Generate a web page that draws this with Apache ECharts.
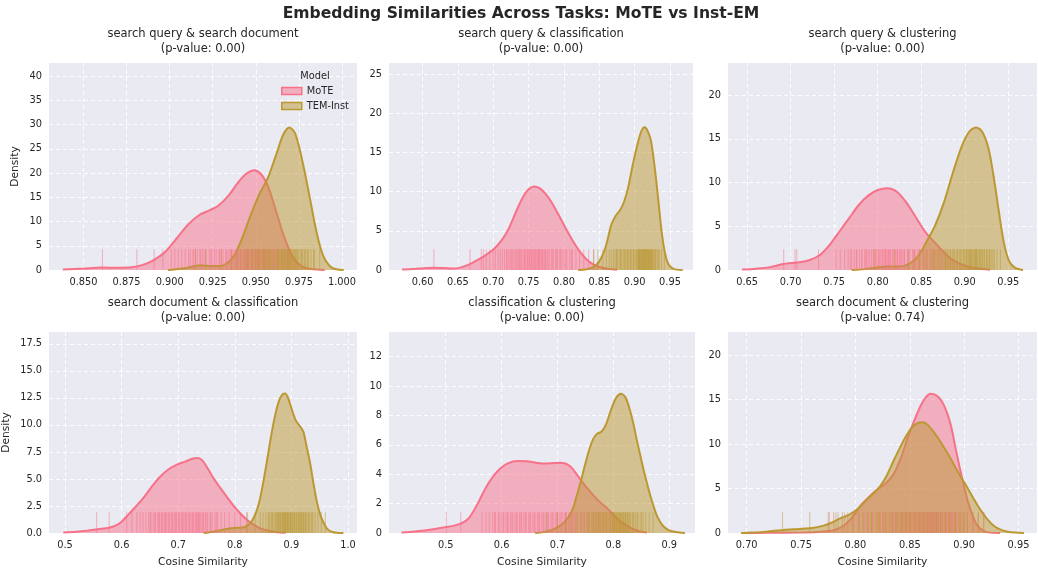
<!DOCTYPE html>
<html>
<head>
<meta charset="utf-8">
<script src="https://cdn.jsdelivr.net/npm/echarts@6/dist/echarts.min.js"></script>
<style>html,body{margin:0;padding:0;background:#fff;}#c{width:1038px;height:569px;}</style>
</head>
<body>
<div id="c"></div>
<script>
// ---------------- DATA ----------------
const seriesNames = ['MoTE', 'TEM-Inst'];
const mainTitle = 'Embedding Similarities Across Tasks: MoTE vs Inst-EM';
const panelTitles = [
  'search query & search document', 'search query & classification', 'search query & clustering',
  'search document & classification', 'classification & clustering', 'search document & clustering'
];
const pValues = ['0.00', '0.00', '0.00', '0.00', '0.00', '0.74'];

// KDE curves [x, density]
const kde1Mote = [[0.838,0.1],[0.850,0.3],[0.860,0.5],[0.870,0.45],[0.878,0.55],[0.884,1.0],[0.890,1.9],[0.897,3.6],[0.904,6.5],[0.911,9.5],[0.917,11.3],[0.923,12.3],[0.928,13.2],[0.934,15.3],[0.940,18.2],[0.945,20.0],[0.949,20.6],[0.953,19.8],[0.957,17.3],[0.961,13.0],[0.966,7.3],[0.971,3.0],[0.976,0.9],[0.982,0.2],[0.990,0.02]];
const kde1Tem = [[0.899,0.0],[0.905,0.2],[0.912,0.6],[0.918,1.0],[0.924,0.8],[0.929,0.8],[0.934,1.6],[0.938,3.3],[0.942,6.5],[0.947,11.3],[0.952,15.6],[0.957,19.0],[0.962,24.0],[0.966,28.0],[0.9695,29.4],[0.973,28.0],[0.977,22.5],[0.981,15.5],[0.985,8.2],[0.989,3.0],[0.994,0.5],[1.001,0.0]];
const kde2Mote = [[0.571,0.05],[0.590,0.15],[0.606,0.25],[0.616,0.3],[0.630,0.25],[0.645,0.2],[0.660,0.5],[0.672,1.0],[0.686,1.7],[0.700,2.6],[0.712,3.8],[0.722,5.3],[0.732,7.4],[0.742,9.3],[0.750,10.3],[0.758,10.65],[0.766,10.4],[0.774,9.7],[0.782,8.7],[0.792,7.1],[0.802,5.4],[0.812,3.8],[0.822,2.4],[0.832,1.35],[0.842,0.7],[0.852,0.35],[0.862,0.15],[0.875,0.03]];
const kde2Tem = [[0.820,0.0],[0.832,0.1],[0.842,0.4],[0.850,1.1],[0.857,2.4],[0.862,4.0],[0.867,5.8],[0.873,6.9],[0.879,7.6],[0.885,8.7],[0.891,10.6],[0.897,13.3],[0.903,15.7],[0.909,17.6],[0.914,18.2],[0.918,17.8],[0.923,16.5],[0.928,13.3],[0.933,9.3],[0.938,5.0],[0.943,2.1],[0.948,0.7],[0.955,0.15],[0.968,0.0]];
const kde3Mote = [[0.644,0.05],[0.660,0.15],[0.675,0.3],[0.690,0.65],[0.700,0.8],[0.710,0.88],[0.722,1.15],[0.734,1.75],[0.745,2.9],[0.756,4.4],[0.767,5.9],[0.778,7.4],[0.789,8.5],[0.800,9.15],[0.811,9.35],[0.822,8.95],[0.833,7.7],[0.844,6.0],[0.855,4.3],[0.866,3.1],[0.877,1.9],[0.888,1.05],[0.900,0.5],[0.913,0.2],[0.929,0.03]];
const kde3Tem = [[0.770,0.0],[0.785,0.1],[0.797,0.25],[0.810,0.4],[0.825,0.4],[0.838,0.8],[0.848,1.8],[0.857,3.4],[0.866,5.1],[0.876,7.7],[0.886,11.0],[0.896,14.0],[0.905,15.8],[0.913,16.3],[0.920,15.8],[0.927,14.0],[0.933,10.8],[0.939,6.8],[0.945,3.1],[0.951,1.0],[0.958,0.25],[0.967,0.0]];
const kde4Mote = [[0.497,0.05],[0.520,0.12],[0.540,0.22],[0.558,0.35],[0.578,0.48],[0.590,0.7],[0.600,1.05],[0.612,1.7],[0.625,2.45],[0.640,3.35],[0.655,4.4],[0.668,5.2],[0.682,5.85],[0.697,6.3],[0.712,6.6],[0.726,6.9],[0.735,6.95],[0.743,6.7],[0.752,6.0],[0.762,5.1],[0.774,4.2],[0.786,3.35],[0.798,2.5],[0.810,1.8],[0.822,1.2],[0.834,0.75],[0.846,0.4],[0.860,0.2],[0.875,0.08],[0.890,0.02]];
const kde4Tem = [[0.745,0.0],[0.762,0.12],[0.775,0.25],[0.790,0.42],[0.805,0.48],[0.818,0.55],[0.828,0.95],[0.836,1.7],[0.843,2.8],[0.850,4.6],[0.857,6.7],[0.864,8.9],[0.871,10.8],[0.878,12.2],[0.884,12.8],[0.889,12.9],[0.895,12.4],[0.901,11.4],[0.908,10.4],[0.915,9.9],[0.921,9.4],[0.927,8.0],[0.933,6.5],[0.939,4.6],[0.945,2.9],[0.951,1.7],[0.957,0.95],[0.963,0.4],[0.972,0.1],[0.992,0.0]];
const kde5Mote = [[0.421,0.03],[0.445,0.1],[0.466,0.18],[0.485,0.3],[0.500,0.4],[0.515,0.5],[0.528,0.65],[0.540,0.95],[0.550,1.5],[0.560,2.2],[0.572,3.1],[0.585,3.85],[0.598,4.4],[0.612,4.75],[0.628,4.9],[0.645,4.88],[0.662,4.78],[0.678,4.72],[0.694,4.76],[0.705,4.78],[0.722,4.56],[0.740,3.7],[0.752,3.1],[0.764,2.58],[0.776,2.1],[0.788,1.7],[0.800,1.25],[0.812,0.81],[0.824,0.5],[0.836,0.26],[0.848,0.1],[0.860,0.03]];
const kde5Tem = [[0.660,0.0],[0.675,0.06],[0.690,0.2],[0.700,0.4],[0.710,0.65],[0.720,1.1],[0.728,1.7],[0.735,2.6],[0.741,3.4],[0.749,4.6],[0.757,5.7],[0.764,6.4],[0.771,6.75],[0.779,6.9],[0.787,7.4],[0.796,8.4],[0.805,9.2],[0.814,9.47],[0.822,9.2],[0.830,8.3],[0.836,7.4],[0.842,6.3],[0.848,5.3],[0.854,4.3],[0.860,3.4],[0.866,2.55],[0.872,1.8],[0.877,1.25],[0.883,0.8],[0.889,0.48],[0.898,0.22],[0.907,0.1],[0.918,0.03],[0.928,0.0]];
const kde6Mote = [[0.695,0.0],[0.720,0.02],[0.749,0.05],[0.765,0.12],[0.780,0.3],[0.790,0.9],[0.798,1.9],[0.805,3.1],[0.812,4.0],[0.820,4.9],[0.828,5.6],[0.835,6.6],[0.842,8.5],[0.848,10.7],[0.854,12.6],[0.860,14.3],[0.865,15.3],[0.869,15.66],[0.874,15.5],[0.879,14.9],[0.884,13.6],[0.888,12.0],[0.892,9.6],[0.896,7.3],[0.900,5.2],[0.904,3.3],[0.908,1.9],[0.912,0.85],[0.917,0.3],[0.922,0.07],[0.933,0.0]];
const kde6Tem = [[0.695,0.0],[0.705,0.05],[0.718,0.15],[0.734,0.35],[0.748,0.45],[0.760,0.55],[0.770,0.8],[0.778,1.15],[0.786,1.65],[0.794,2.05],[0.802,2.7],[0.810,3.7],[0.817,4.5],[0.823,5.3],[0.829,6.5],[0.835,8.1],[0.841,9.6],[0.847,11.0],[0.853,12.0],[0.858,12.4],[0.862,12.46],[0.867,12.1],[0.873,11.2],[0.879,10.1],[0.885,8.9],[0.891,7.6],[0.897,6.3],[0.903,5.1],[0.909,3.8],[0.915,2.6],[0.921,1.6],[0.927,0.85],[0.933,0.4],[0.940,0.15],[0.947,0.05],[0.955,0.0]];

// Rug observations (cosine similarity values)
const rug1Mote = [0.861,0.881,0.891,0.896,0.901,0.903,0.905,0.907,0.909,0.911,0.912,0.914,0.915,0.916,0.918,0.919,0.920,0.921,0.923,0.924,0.926,0.927,0.929,0.930,0.931,0.933,0.934,0.935,0.936,0.937,0.938,0.939,0.940,0.941,0.942,0.943,0.944,0.945,0.946,0.947,0.948,0.949,0.950,0.951,0.952,0.953,0.954,0.955,0.956,0.957,0.958,0.960,0.961,0.963,0.965,0.967,0.970,
  0.9325,0.9385,0.9415,0.9445,0.9475,0.9495,0.9505,0.9525,0.9545,0.9565,0.9285,0.9245,0.9175,0.9135,0.9595,0.9625,0.9455,0.9435,0.9355,0.9395];
const rug1Tem = [0.915,0.921,0.930,0.936,0.939,0.941,0.943,0.945,0.946,0.948,0.949,0.950,0.951,0.952,0.953,0.954,0.955,0.956,0.957,0.958,0.959,0.960,0.961,0.962,0.963,0.9635,0.964,0.965,0.9655,0.966,0.967,0.9675,0.968,0.9685,0.969,0.970,0.9705,0.971,0.972,0.9725,0.973,0.974,0.975,0.976,0.977,0.978,0.979,0.980,0.982,0.984,0.987,
  0.9445,0.9475,0.9515,0.9545,0.9575,0.9605,0.9625,0.9645,0.9665,0.9685,0.9695,0.9715,0.9735,0.9745,0.9765,0.9785,0.9805,0.9835,0.9585,0.9555];
const rug2Mote = [0.616,0.667,0.683,0.686,0.690,0.695,0.700,0.703,0.707,0.710,0.713,0.716,0.719,0.722,0.724,0.727,0.729,0.731,0.734,0.736,0.738,0.740,0.742,0.744,0.746,0.748,0.750,0.752,0.754,0.756,0.758,0.760,0.762,0.764,0.766,0.768,0.770,0.772,0.774,0.776,0.779,0.782,0.785,0.788,0.791,0.794,0.797,0.800,0.804,0.808,0.812,0.817,0.822,0.828,0.835,0.842,
  0.7445,0.7485,0.7515,0.7545,0.7575,0.7605,0.7635,0.7655,0.7695,0.7735,0.7775,0.7325,0.7375,0.7255,0.7835,0.7895,0.7955,0.8025,0.8105,0.7195];
const rug2Tem = [0.842,0.848,0.855,0.860,0.864,0.867,0.870,0.872,0.874,0.876,0.878,0.880,0.882,0.884,0.886,0.888,0.890,0.892,0.894,0.896,0.898,0.900,0.902,0.903,0.905,0.906,0.907,0.908,0.909,0.910,0.911,0.912,0.913,0.914,0.915,0.916,0.917,0.918,0.919,0.920,0.921,0.922,0.923,0.924,0.925,0.926,0.928,0.930,0.932,0.935,0.938,0.942,
  0.9035,0.9065,0.9095,0.9115,0.9135,0.9155,0.9175,0.9195,0.9215,0.9235,0.8985,0.8945,0.8905,0.8865,0.8805,0.8745,0.9265,0.9295,0.9335,0.9055];
const rug3Mote = [0.692,0.705,0.707,0.732,0.752,0.757,0.762,0.766,0.770,0.773,0.776,0.779,0.782,0.785,0.787,0.789,0.791,0.793,0.795,0.797,0.799,0.801,0.803,0.805,0.807,0.809,0.811,0.813,0.815,0.817,0.819,0.821,0.823,0.825,0.827,0.829,0.831,0.834,0.837,0.840,0.843,0.846,0.849,0.852,0.856,0.860,0.864,0.869,0.874,0.880,
  0.7955,0.8015,0.8055,0.8095,0.8125,0.8145,0.8185,0.8225,0.8265,0.8305,0.7865,0.7815,0.7755,0.7685,0.8355,0.8415,0.8475,0.8545,0.8625,0.8085];
const rug3Tem = [0.797,0.820,0.835,0.842,0.848,0.853,0.857,0.861,0.864,0.867,0.870,0.873,0.876,0.878,0.880,0.882,0.884,0.886,0.888,0.890,0.892,0.894,0.896,0.898,0.899,0.900,0.902,0.903,0.905,0.906,0.908,0.909,0.911,0.912,0.914,0.915,0.917,0.918,0.920,0.921,0.923,0.925,0.927,0.929,0.931,0.934,0.937,0.941,
  0.9015,0.9045,0.9075,0.9105,0.9135,0.9165,0.9195,0.9225,0.8955,0.8915,0.8875,0.8835,0.8775,0.8715,0.9255,0.9285,0.9325,0.8655,0.9125,0.9065];
const rug4Mote = [0.556,0.578,0.609,0.618,0.627,0.633,0.638,0.643,0.648,0.652,0.656,0.660,0.664,0.667,0.670,0.673,0.676,0.679,0.682,0.685,0.688,0.691,0.694,0.697,0.700,0.703,0.706,0.709,0.712,0.715,0.718,0.721,0.724,0.727,0.730,0.733,0.736,0.739,0.742,0.745,0.748,0.752,0.756,0.760,0.765,0.770,0.776,0.782,0.790,0.800,0.810,0.821,
  0.7015,0.7075,0.7135,0.7195,0.7255,0.7315,0.7375,0.6955,0.6895,0.6835,0.6775,0.6715,0.6655,0.6585,0.7435,0.7495,0.7575,0.7675,0.6505,0.7345];
const rug4Tem = [0.822,0.836,0.845,0.850,0.855,0.859,0.862,0.865,0.868,0.871,0.873,0.875,0.877,0.879,0.881,0.883,0.885,0.887,0.888,0.890,0.891,0.893,0.894,0.896,0.898,0.900,0.902,0.904,0.906,0.908,0.910,0.912,0.914,0.916,0.918,0.920,0.922,0.924,0.926,0.929,0.932,0.935,0.938,0.942,0.947,0.953,0.960,
  0.8845,0.8865,0.8895,0.8925,0.8955,0.8985,0.9015,0.9055,0.9095,0.9135,0.9175,0.9215,0.8805,0.8765,0.8725,0.8665,0.8605,0.9255,0.9305,0.9365];
const rug5Mote = [0.501,0.527,0.565,0.572,0.578,0.584,0.589,0.594,0.599,0.604,0.608,0.612,0.616,0.620,0.624,0.628,0.632,0.636,0.640,0.644,0.648,0.652,0.656,0.660,0.664,0.668,0.672,0.676,0.680,0.684,0.688,0.692,0.696,0.700,0.704,0.708,0.712,0.716,0.720,0.725,0.730,0.736,0.742,0.749,0.756,0.764,0.773,0.783,0.795,
  0.6185,0.6265,0.6345,0.6425,0.6505,0.6585,0.6665,0.6745,0.6825,0.6905,0.6985,0.7065,0.7145,0.6105,0.6025,0.5955,0.5875,0.7225,0.7325,0.7455];
const rug5Tem = [0.680,0.700,0.715,0.726,0.735,0.742,0.748,0.753,0.757,0.761,0.765,0.768,0.771,0.774,0.777,0.780,0.783,0.786,0.789,0.792,0.795,0.798,0.800,0.802,0.804,0.806,0.808,0.810,0.812,0.814,0.816,0.818,0.820,0.822,0.824,0.826,0.828,0.831,0.834,0.837,0.840,0.844,0.848,0.853,0.858,0.864,0.871,
  0.8015,0.8055,0.8095,0.8135,0.8175,0.8215,0.8255,0.8295,0.7985,0.7935,0.7875,0.7815,0.7755,0.7695,0.7635,0.8355,0.8425,0.8505,0.7545,0.8115];
const rug6Mote = [0.776,0.782,0.790,0.797,0.803,0.808,0.812,0.816,0.820,0.823,0.826,0.829,0.832,0.835,0.838,0.841,0.843,0.845,0.847,0.849,0.851,0.853,0.855,0.857,0.859,0.861,0.863,0.864,0.866,0.867,0.869,0.870,0.872,0.873,0.875,0.876,0.878,0.880,0.882,0.884,0.886,0.888,0.890,0.893,0.896,0.899,0.903,0.908,0.913,0.918,
  0.8605,0.8625,0.8645,0.8665,0.8685,0.8705,0.8725,0.8745,0.8765,0.8785,0.8805,0.8585,0.8545,0.8505,0.8465,0.8425,0.8835,0.8875,0.8915,0.8365];
const rug6Tem = [0.733,0.758,0.775,0.780,0.784,0.788,0.793,0.798,0.803,0.807,0.811,0.815,0.819,0.822,0.825,0.828,0.831,0.834,0.837,0.840,0.842,0.844,0.846,0.848,0.850,0.852,0.854,0.856,0.858,0.860,0.862,0.864,0.866,0.868,0.870,0.872,0.874,0.876,0.878,0.880,0.883,0.886,0.889,0.892,0.895,0.899,0.903,0.908,0.913,0.918,
  0.8505,0.8545,0.8585,0.8625,0.8665,0.8705,0.8745,0.8465,0.8425,0.8385,0.8335,0.8785,0.8825,0.8865,0.8915,0.8275,0.8215,0.8965,0.9005,0.8145];

// Tick labels
const x1Ticks = [0.850,0.875,0.900,0.925,0.950,0.975,1.000];
const x2Ticks = [0.55,0.60,0.65,0.70,0.75,0.80,0.85,0.90,0.95];
const x3Ticks = [0.65,0.70,0.75,0.80,0.85,0.90,0.95];
const x4Ticks = [0.5,0.6,0.7,0.8,0.9,1.0];
const x5Ticks = [0.5,0.6,0.7,0.8,0.9];
const x6Ticks = [0.70,0.75,0.80,0.85,0.90,0.95];
const y1Ticks = [0,5,10,15,20,25,30,35,40];
const y2Ticks = [0,5,10,15,20,25];
const y3Ticks = [0,5,10,15,20];
const y4Ticks = [0,2.5,5,7.5,10,12.5,15,17.5];
const y5Ticks = [0,2,4,6,8,10,12];
const y6Ticks = [0,5,10,15,20];

// Axis extents
const xExtents = [[0.830,1.0087],[0.5525,0.9825],[0.628,0.983],[0.4717,1.016],[0.3986,0.946],[0.6828,0.967]];
const yMaxes = [42.7,26.4,23.66,18.6,13.67,22.6];

// ---------------- LAYOUT / STYLE ----------------
const FONT = 'DejaVu Sans';
const TXT = '#262626';
const colors = ['#f77189', '#bb9832'];
const fills = ['rgba(247,113,137,0.5)', 'rgba(187,152,50,0.5)'];
const rects = [
  {l:49, t:63, w:308, h:207}, {l:389, t:63, w:304, h:207}, {l:728, t:63, w:309, h:207},
  {l:49, t:332, w:308, h:207}, {l:389, t:332, w:306, h:207}, {l:728, t:332, w:309, h:207}
];
const xDec = [3,2,2,1,1,2];
const yDec = [0,0,0,1,0,0];
const kdes = [[kde1Mote,kde1Tem],[kde2Mote,kde2Tem],[kde3Mote,kde3Tem],[kde4Mote,kde4Tem],[kde5Mote,kde5Tem],[kde6Mote,kde6Tem]];
const rugs = [[rug1Mote,rug1Tem],[rug2Mote,rug2Tem],[rug3Mote,rug3Tem],[rug4Mote,rug4Tem],[rug5Mote,rug5Tem],[rug6Mote,rug6Tem]];
const xTicks = [x1Ticks,x2Ticks,x3Ticks,x4Ticks,x5Ticks,x6Ticks];
const yTicks = [y1Ticks,y2Ticks,y3Ticks,y4Ticks,y5Ticks,y6Ticks];

const grid = [], xAxis = [], yAxis = [], series = [], graphic = [];
const splitStyle = {show:true, lineStyle:{color:'#ffffff', width:1, type:[4,3], opacity:0.9}};

rects.forEach((r, i) => {
  grid.push({left:r.l, top:r.t, width:r.w, height:r.h, show:true, backgroundColor:'#eaeaf2', borderWidth:0, containLabel:false});
  const bottomRow = i >= 3;
  xAxis.push({
    type:'value', gridIndex:i, min:xExtents[i][0], max:xExtents[i][1],
    axisLine:{show:false},
    axisTick:{show:false, customValues:xTicks[i]},
    axisLabel:{customValues:xTicks[i], margin:7, fontFamily:FONT, fontSize:9.8, color:TXT,
      formatter:(v)=>Number(v).toFixed(xDec[i])},
    splitLine:splitStyle,
    name: bottomRow ? 'Cosine Similarity' : '', nameLocation:'middle', nameGap:24,
    nameTextStyle:{fontFamily:FONT, fontSize:10.7, color:TXT}
  });
  yAxis.push({
    type:'value', gridIndex:i, min:0, max:yMaxes[i],
    axisLine:{show:false},
    axisTick:{show:false, customValues:yTicks[i]},
    axisLabel:{customValues:yTicks[i], margin:7, fontFamily:FONT, fontSize:9.8, color:TXT,
      formatter:(v)=>Number(v).toFixed(yDec[i])},
    splitLine:splitStyle,
    name: (i===0||i===3) ? 'Density' : '', nameLocation:'middle', nameGap: i===0 ? 28 : 37,
    nameTextStyle:{fontFamily:FONT, fontSize:10.7, color:TXT}
  });
  // curves
  [0,1].forEach(k => {
    series.push({
      type:'line', name:seriesNames[k], xAxisIndex:i, yAxisIndex:i,
      data:kdes[i][k], showSymbol:false, smooth:0.3, clip:true,
      lineStyle:{color:colors[k], width:2},
      itemStyle:{color:colors[k]},
      areaStyle:{color:colors[k], opacity:0.5, origin:'start'},
      z:2+k, silent:true
    });
  });
  // rugs
  [0,1].forEach(k => {
    series.push({
      type:'scatter', name:seriesNames[k] + ' rug', xAxisIndex:i, yAxisIndex:i,
      data:rugs[i][k].map(v=>[v,0]), symbol:'rect', symbolSize:[1,20.7], symbolOffset:[0,'-50%'],
      itemStyle:{color:colors[k], opacity:0.5}, z:5, silent:true
    });
  });
  // subplot titles
  const cx = r.l + r.w/2;
  const ty = bottomRow ? 303.5 : 34.5;
  graphic.push({type:'text', x:cx, y:ty, style:{text:panelTitles[i], fontFamily:FONT, fontSize:11.5, fill:TXT, textAlign:'center', textVerticalAlign:'middle'}});
  graphic.push({type:'text', x:cx, y:ty+14.8, style:{text:'(p-value: ' + pValues[i] + ')', fontFamily:FONT, fontSize:11.5, fill:TXT, textAlign:'center', textVerticalAlign:'middle'}});
});

graphic.push({type:'text', x:521, y:13.5, style:{text:mainTitle, fontFamily:FONT, fontSize:15.6, fontWeight:'bold', fill:TXT, textAlign:'center', textVerticalAlign:'middle'}});
graphic.push({type:'text', x:315, y:76, z:10, style:{text:'Model', fontFamily:FONT, fontSize:9.8, fill:TXT, textAlign:'center', textVerticalAlign:'middle'}});

const option = {
  animation:false,
  backgroundColor:'#ffffff',
  grid, xAxis, yAxis, series, graphic,
  legend:{
    left:281, top:86, orient:'vertical', itemWidth:20, itemHeight:7, itemGap:5, padding:0,
    textStyle:{fontFamily:FONT, fontSize:9.8, color:TXT},
    selectedMode:false,
    data:[
      {name:'MoTE', icon:'rect', itemStyle:{color:fills[0], borderColor:colors[0], borderWidth:1.5}},
      {name:'TEM-Inst', icon:'rect', itemStyle:{color:fills[1], borderColor:colors[1], borderWidth:1.5}}
    ]
  }
};
const chart = echarts.init(document.getElementById('c'), null, {renderer:'canvas'});
chart.setOption(option);
</script>
</body>
</html>
